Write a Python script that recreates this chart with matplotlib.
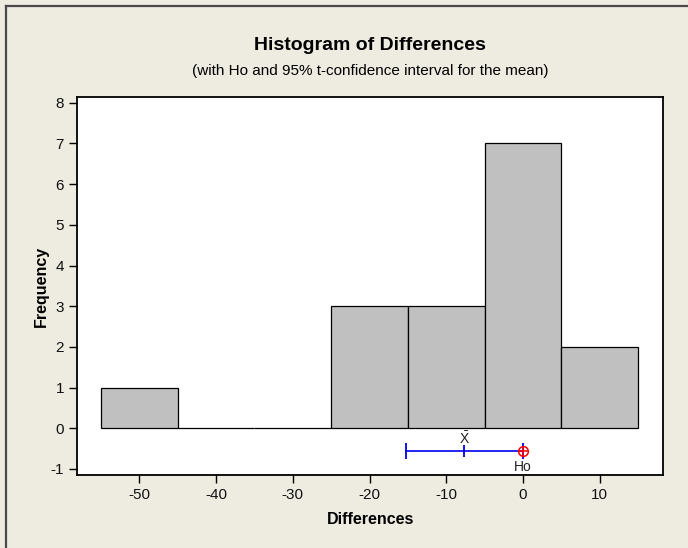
import matplotlib
matplotlib.use("Agg")
import matplotlib.pyplot as plt
from matplotlib.lines import Line2D
import numpy as np

# ---- data ----
bin_edges = [-55, -45, -35, -25, -15, -5, 5, 15]
counts = [1, 0, 0, 3, 3, 7, 2]
ci_lower = -15.25
ci_mean = -7.65
ci_upper = -0.05
h0 = 0
x_ticks = [-50, -40, -30, -20, -10, 0, 10]
y_ticks = [-1, 0, 1, 2, 3, 4, 5, 6, 7, 8]
ci_y = -0.56

title = "Histogram of Differences"
subtitle = "(with Ho and 95% t-confidence interval for the mean)"
xlabel = "Differences"
ylabel = "Frequency"

plt.rcParams['font.family'] = ['Liberation Sans Narrow', 'Liberation Sans', 'DejaVu Sans']
plt.rcParams['mathtext.default'] = 'regular'
plt.rcParams['mathtext.fontset'] = 'custom'
plt.rcParams['mathtext.rm'] = 'Liberation Sans'
plt.rcParams['axes.unicode_minus'] = False

BG = '#EEEBE1'
fig = plt.figure(figsize=(6.88, 5.48), dpi=100, facecolor=BG)
W, H = 688, 548
L, R, T, B = 77.3, 663.3, 97.5, 475.3
ax = fig.add_axes([L / W, 1 - B / H, (R - L) / W, (B - T) / H])
ax.set_facecolor('white')

lefts = np.array(bin_edges[:-1])
widths = np.diff(bin_edges)
ax.bar(lefts, counts, width=widths, align='edge', color='#C0C0C0',
       edgecolor='black', linewidth=0.9, zorder=2)

# confidence interval
ax.plot([ci_lower, ci_upper], [ci_y, ci_y], color='#0000EE', lw=1.2, zorder=3)
ax.plot([ci_lower, ci_upper], [ci_y, ci_y], ls='none', marker='|', ms=11,
        mew=1.3, color='#0000EE', zorder=3)
ax.plot([ci_mean], [ci_y], ls='none', marker='|', ms=8, mew=1.3,
        color='#0000EE', zorder=3)
ax.plot([h0], [ci_y], ls='none', marker='o', ms=7, mfc='none', mec='red',
        mew=1.1, zorder=4)
ax.plot([h0], [ci_y], ls='none', marker='+', ms=7, mec='red', mew=1.1, zorder=4)
ax.text(ci_mean, -0.25, r'$\bar{X}$', ha='center', va='center',
        fontsize=10, color='#222222')
ax.text(h0, -0.95, 'Ho', ha='center', va='center', fontsize=10,
        color='#222222')

ax.set_xlim(-58.1, 18.3)
ax.set_ylim(-1.155, 8.13)
ax.set_xticks(x_ticks)
ax.set_yticks(y_ticks)
ax.tick_params(axis='both', direction='out', length=6, width=1, labelsize=11,
               color='black', labelcolor='#111111')
for s in ax.spines.values():
    s.set_linewidth(1.3)
    s.set_color('black')

ax.set_xlabel(xlabel, fontsize=11.5, fontweight='bold', labelpad=7)
ax.set_ylabel(ylabel, fontsize=11.5, fontweight='bold', labelpad=1)

fig.text(0.5 * (L + R) / W, 1 - 45 / H, title, ha='center', va='center',
         fontsize=14, fontweight='bold')
fig.text(0.5 * (L + R) / W, 1 - 71.5 / H, subtitle, ha='center', va='center',
         fontsize=11)

# outer frame (left and top edges)
fig.add_artist(Line2D([6 / W, 6 / W], [0, 1 - 6 / H], transform=fig.transFigure,
                      color='#4A4A4A', lw=1.6))
fig.add_artist(Line2D([6 / W, 1], [1 - 6 / H, 1 - 6 / H], transform=fig.transFigure,
                      color='#4A4A4A', lw=1.6))

fig.savefig('out.png', dpi=100, facecolor=BG)
